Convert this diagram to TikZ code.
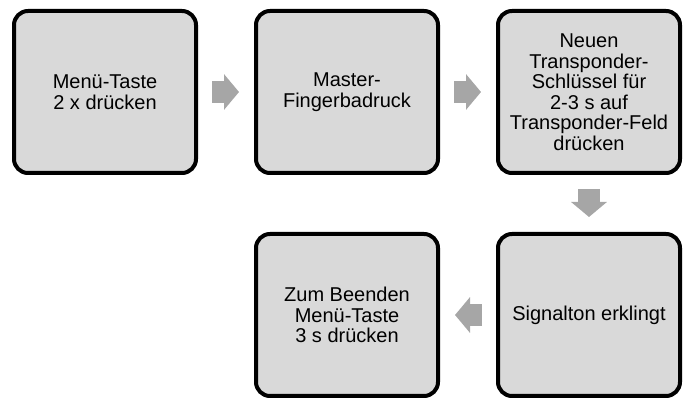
\documentclass[tikz,border=0pt]{standalone}
\usepackage{fontspec}
\setmainfont{Liberation Sans}
\usepackage{xcolor}
\usepackage{tikz}
\usetikzlibrary{arrows.meta}
\definecolor{boxgray}{HTML}{D9D9D9}
\definecolor{arrowgray}{HTML}{A6A6A6}
\tikzset{
  stepbox/.style={draw=black, line width=4pt, fill=boxgray, rounded corners=14pt,
    minimum width=182pt, minimum height=162pt, inner sep=0pt, align=center,
    font=\fontsize{20}{20.5}\selectfont},
  flow/.style={draw=arrowgray, line width=22pt, -{Triangle[length=15pt,width=35pt]},
    shorten <=14pt, shorten >=15pt},
}
\begin{document}
\begin{tikzpicture}[x=1pt,y=1pt]
  \useasboundingbox (0,0) rectangle (683,399);
  % top row
  \node[stepbox] (menu) at (105,307) {Menü-Taste\\2 x drücken};
  \node[stepbox] (master) at (347,307) {Master-\\Fingerbadruck};
  \node[stepbox] (transp) at (589,307) {Neuen\\Transponder-\\Schlüssel für\\2-3 s auf\\Transponder-Feld\\drücken};
  % bottom row
  \node[stepbox] (signal) at (589,84) {Signalton erklingt};
  \node[stepbox] (finish) at (347,84) {Zum Beenden\\Menü-Taste\\3 s drücken};
  % block arrows
  \draw[flow] (menu.east) -- (master.west);
  \draw[flow] (master.east) -- (transp.west);
  \draw[flow] (transp.south) -- (signal.north);
  \draw[flow] (signal.west) -- (finish.east);
\end{tikzpicture}
\end{document}
